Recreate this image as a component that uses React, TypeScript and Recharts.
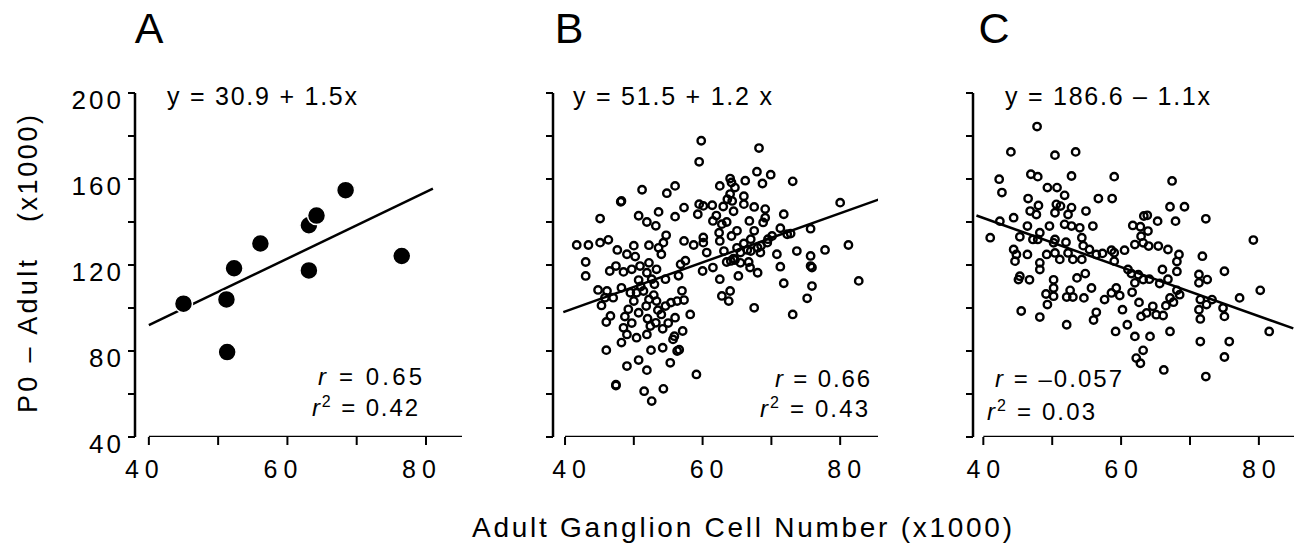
import { Scatter, ScatterChart, XAxis, YAxis } from "recharts";

// three panels share the same y scale (P0 - adult, x1000) and x scale (adult ganglion cells, x1000)
const yTicks = [40, 60, 80, 100, 120, 140, 160, 180, 200];
const yLabelTicks = [40, 80, 120, 160, 200];
const xTicks = [40, 50, 60, 70, 80];
const xLabelTicks = [40, 60, 80];

const pointsA: [number, number][] = [
  [45.0, 102], [51.2, 104], [51.3, 79.5], [52.3, 118.5], [56.1, 130],
  [63.1, 138.5], [64.2, 143], [63.1, 117.5], [68.4, 154.8], [76.5, 124.2],
];

const pointsB: [number, number][] = [
  [59.8, 177.8], [59.5, 168], [68.2, 174.4], [67.9, 163.4], [69.9, 162], [68.7, 157.9], [73.1, 158.9],
  [64, 160.2], [64.2, 158.4], [62.5, 156.8], [64.7, 156], [66.2, 159.2], [56, 156.8], [54.8, 153.4],
  [51.2, 155], [48.1, 149.4], [48.2, 149.8], [80, 149], [45.1, 141.6], [50.7, 142.9], [51.9, 140],
  [53.6, 144.7], [53.2, 138.2], [56, 142.5], [57.3, 146.7], [59.5, 148.3], [60.1, 147.5], [59.3, 143.6],
  [61.4, 147.8], [63, 147.2], [63.6, 150.6], [64.3, 149.8], [66, 148.3], [67.5, 147], [69.1, 146],
  [69.1, 142], [68.8, 139.8], [71.8, 143.6], [66.8, 140.5], [61.5, 140.5], [62.8, 139], [62.4, 135],
  [64.2, 133.5], [65, 135.9], [67.5, 135.9], [71.3, 137.1], [72.8, 134.6], [75.7, 136.9], [70.1, 133.5],
  [41.7, 129.3], [43.4, 129.3], [45.1, 130.4], [46.3, 131.7], [47.6, 127], [49, 125], [50.2, 123.9],
  [52.2, 129.2], [53.6, 128], [54.3, 130.4], [54.7, 133.8], [57.3, 131.2], [58.7, 129.3], [60.1, 132.8],
  [60.1, 130.4], [60.6, 125.8], [62.5, 131.2], [63.1, 126.5], [64.1, 121.9], [64.7, 122.3], [65.5, 125.8],
  [67, 126.5], [68, 128], [68.4, 125.8], [69.4, 130.4], [70.8, 125], [72.3, 134.3], [73.7, 126.5],
  [75.7, 124.2], [77.8, 127], [81.2, 129.3], [43, 121.4], [43, 114.9], [46.5, 117.2], [47.4, 119.5],
  [48.5, 116.8], [49.7, 118], [50.9, 119.5], [52.2, 121], [51.9, 116.4], [53.3, 118], [52.6, 113.4],
  [54.6, 113.4], [56.8, 120.3], [60, 117.2], [61.5, 118.8], [63.5, 121.4], [65.2, 114.9], [62.5, 113.4],
  [66.7, 121.4], [66.9, 118.8], [68, 116.4], [71.3, 119.2], [75.7, 119.5], [75.9, 118.8], [71.8, 111.5],
  [75.9, 110.2], [82.7, 112.6], [75.2, 104.5], [64, 107.9], [62.8, 105.6], [63.8, 103.2], [67.5, 100.1],
  [73.1, 97], [44.8, 108.4], [46.1, 107.9], [45.8, 104.8], [45.3, 101.2], [47, 104.8], [48.2, 109.4],
  [49.5, 107.1], [50.4, 107.1], [51.4, 107.9], [50, 103.2], [49.2, 99.4], [50.7, 97.8], [51.8, 100.9],
  [52.2, 104], [53.3, 103.2], [54.6, 100.9], [55.4, 102.5], [56.3, 103.2], [57.3, 103.7], [54, 97],
  [58.2, 97], [56, 95.5], [46.6, 96.3], [46, 93.5], [48.7, 96], [48.5, 90.8], [49, 87.7], [48.2, 83.9],
  [50.4, 86.2], [51.9, 87.7], [52.4, 91.6], [53.2, 93.1], [54.2, 90.3], [55.9, 86.9], [55.7, 85.4],
  [57.1, 89.3], [46, 80.4], [49, 73], [50.7, 75.8], [51.9, 71.1], [52.5, 80.4], [54.2, 81.5], [56.3, 80],
  [56.6, 80.6], [55.3, 74.5], [59.1, 69.1], [47.4, 63.9], [47.4, 64.3], [51.5, 61.3], [52.6, 56.7],
  [54.3, 62.4], [53, 111], [51, 110], [52.9, 106], [50.7, 113], [52, 95], [53.5, 99], [49.7, 93],
  [55, 93], [57, 108], [56.5, 115], [54, 125], [57.5, 122], [50, 129], [65, 128], [66, 130], [67, 132],
  [68.5, 129], [69.5, 132], [66.5, 127], [64.5, 123], [65.5, 121], [62, 143], [63.5, 140], [64.5, 145],
  [66, 152], [64, 153],
];

const pointsC: [number, number][] = [
  [47.8, 184.4], [44, 172.6], [50.4, 171.1], [53.4, 172.6], [46.9, 162.2], [47.9, 161.1], [52.8, 161.4],
  [59, 161.1], [67.4, 159.1], [42.3, 159.9], [42.7, 153.7], [49.3, 156], [50.7, 156], [51.8, 152.4],
  [56.7, 150.9], [58.7, 150.9], [46.5, 150.9], [48, 147.7], [50.6, 148.2], [51.2, 147.4], [46.8, 145.1],
  [47.7, 143.5], [52.8, 146.7], [54.9, 145.1], [52.3, 143.5], [50.4, 144.3], [44.4, 142], [42.4, 140.4],
  [41, 132.7], [46.4, 138.1], [45.3, 133.1], [48.2, 135], [49.6, 138.1], [51.8, 138.9], [52.8, 138.1],
  [54, 137.3], [55.9, 138.1], [54.3, 132.7], [50.4, 131.9], [50.2, 130.3], [52, 130.6], [47.2, 131.9],
  [47.9, 131.9], [44.4, 127.2], [44.8, 124.9], [46.4, 124.9], [44.6, 121.8], [48.2, 121], [49.2, 124.9],
  [50.4, 125.6], [51.1, 122.6], [52.3, 125.6], [53, 122.6], [54.3, 122.6], [54.5, 129], [55.4, 127.2],
  [56.4, 124.9], [57.3, 125.4], [58.6, 126.9], [59, 125.7], [59, 121.8], [60.5, 126.9], [62, 129.5],
  [63.2, 130.3], [64, 128.8], [65.4, 128.8], [66.8, 127.2], [63.3, 142.8], [63.8, 143.1], [61.7, 138.4],
  [62.8, 137.8], [65.3, 140.4], [67.9, 140.4], [67.1, 147.1], [69.2, 147.1], [72.3, 141.5], [63.9, 135.8],
  [62.9, 133.4], [79.2, 131.6], [45.3, 114.8], [45.1, 113.2], [46.7, 113.1], [48.2, 117.9], [50.2, 113.1],
  [50.2, 109.3], [49.1, 106.5], [50.2, 105.5], [49.3, 101.6], [52.1, 105.1], [53, 105.1], [52.6, 108.2],
  [53.6, 114], [54.8, 116], [55.7, 109.3], [54.6, 104.7], [57.6, 103.9], [58.6, 107], [59.3, 109.3],
  [59.8, 105.8], [61, 117.9], [61.5, 116], [62.5, 115.5], [63.2, 113.2], [62, 111.7], [61.6, 107.3],
  [62.6, 102.6], [64.1, 113.4], [65.6, 111.4], [66.8, 113.4], [66, 117.9], [68.1, 117], [68.1, 121.6],
  [68.4, 124.9], [68.1, 108.2], [68.5, 106.2], [67.1, 104.7], [67.6, 102.7], [66.5, 101.1], [66.1, 96.5],
  [64.6, 100.8], [63.7, 97.7], [62.9, 96.1], [65.1, 96.9], [71.8, 124.1], [71.3, 115.6], [72.5, 113.2],
  [71.3, 111.7], [71.5, 103.9], [71.3, 99.2], [71.5, 94.9], [72.4, 101.6], [73.2, 103.9], [75, 117.1],
  [74.8, 100], [75, 96.1], [77.2, 104.7], [80.2, 108.2], [81.5, 89.1], [45.5, 98.6], [48.2, 95.8],
  [52.1, 92.2], [56, 94.4], [56.4, 98], [60.2, 99.2], [59.2, 89.1], [60.9, 92.2], [62, 86.8], [64.2, 86.8],
  [67.1, 89.1], [71.5, 84.4], [75.7, 84.4], [75, 77.2], [63.2, 80.3], [62.2, 76.7], [62.8, 74.3],
  [66.2, 71.2], [72.3, 68.1],
];

// regression lines at their visible ends
const fitA: [number, number][] = [[40, 92], [81, 155.5]];
const fitB: [number, number][] = [[39.75, 98.1], [86, 150.9]];
const fitC: [number, number][] = [[39, 143], [85, 90.5]];

const FONT = '"Liberation Sans", Arial, Helvetica, sans-serif';
const H = 545;
const PLOT_TOP = 93;
const PLOT_BOTTOM = 437;
const YW = 80;

const toXY = (pts: [number, number][]) => pts.map(([x, y]) => ({ x, y }));

interface PanelProps {
  left: number;
  right: number;
  xDomain: [number, number];
  points: [number, number][];
  fit: [number, number][];
  filled: boolean;
  showYLabels: boolean;
  labelShift: number;
}

function Panel({ left, right, xDomain, points, fit, filled, showYLabels, labelShift }: PanelProps) {
  const width = YW + (right - left);
  return (
    <div style={{ position: "absolute", left: left - YW, top: 0 }}>
      <ScatterChart width={width} height={H} margin={{ top: PLOT_TOP, right: 0, bottom: 0, left: 0 }}>
        <XAxis
          type="number"
          dataKey="x"
          domain={xDomain}
          ticks={xTicks}
          interval={0}
          allowDataOverflow
          axisLine={false}
          tickLine={{ stroke: "#000", strokeWidth: 2 }}
          tickSize={8}
          height={H - PLOT_BOTTOM}
          tick={({ x, y, payload }: any) =>
            xLabelTicks.includes(payload.value) ? (
              <text x={x + labelShift + 3} y={y + 31} textAnchor="middle" fontFamily={FONT} fontSize={25} letterSpacing={6} fill="#000">
                {payload.value}
              </text>
            ) : (
              <g />
            )
          }
        />
        <YAxis
          type="number"
          dataKey="y"
          domain={[40, 200]}
          ticks={yTicks}
          interval={0}
          allowDataOverflow
          width={YW}
          axisLine={{ stroke: "#000", strokeWidth: 2.5 }}
          tickLine={{ stroke: "#000", strokeWidth: 2 }}
          tickSize={7}
          tickMargin={7}
          tick={({ x, y, payload }: any) =>
            showYLabels && yLabelTicks.includes(payload.value) ? (
              <text x={x + 3} y={y + 16} textAnchor="end" fontFamily={FONT} fontSize={26} letterSpacing={3} fill="#000">
                {payload.value}
              </text>
            ) : (
              <g />
            )
          }
        />
        {/* x axis line starts at 40, separate from the y axis */}
        <Scatter
          data={toXY([[40, 40], [xDomain[1], 40]])}
          line={{ stroke: "#000", strokeWidth: 2.5 }}
          shape={() => <g />}
          isAnimationActive={false}
        />
        <Scatter
          data={toXY(fit)}
          line={{ stroke: "#000", strokeWidth: 2.5 }}
          shape={() => <g />}
          isAnimationActive={false}
        />
        <Scatter
          data={toXY(points)}
          isAnimationActive={false}
          shape={({ cx, cy }: any) =>
            filled ? (
              <circle cx={cx} cy={cy} r={9} fill="#000" stroke="#fff" strokeWidth={1.5} />
            ) : (
              <circle cx={cx} cy={cy} r={3.7} fill="none" stroke="#000" strokeWidth={2.4} />
            )
          }
        />
      </ScatterChart>
    </div>
  );
}

function RText({ x, y, r2, value, anchor, len }: { x: number; y: number; r2: boolean; value: string; anchor: "start" | "end"; len: number }) {
  return (
    <text x={x} y={y} textAnchor={anchor} fontFamily={FONT} fontSize={24} textLength={len} lengthAdjust="spacing">
      <tspan fontStyle="italic">r</tspan>
      {r2 ? <tspan dy={-9} fontSize={16}>2</tspan> : null}
      <tspan dy={r2 ? 9 : 0}>{` = ${value}`}</tspan>
    </text>
  );
}

export default function App() {
  return (
    <div style={{ position: "absolute", left: 0, top: 0, width: 1294, height: H, background: "#fff", overflow: "hidden" }}>
      <Panel left={135} right={462} xDomain={[38, 85.2]} points={pointsA} fit={fitA} filled showYLabels labelShift={-7} />
      <Panel left={553} right={878} xDomain={[38.25, 85.5]} points={pointsB} fit={fitB} filled={false} showYLabels={false} labelShift={4} />
      <Panel left={973} right={1294} xDomain={[38.5, 85.1]} points={pointsC} fit={fitC} filled={false} showYLabels={false} labelShift={0} />
      <svg width={1294} height={H} style={{ position: "absolute", left: 0, top: 0, pointerEvents: "none" }}>
        <g fontFamily={FONT} fill="#000">
          <text x={149} y={43} fontSize={43} textAnchor="middle">A</text>
          <text x={569} y={43} fontSize={43} textAnchor="middle">B</text>
          <text x={994} y={43} fontSize={43} textAnchor="middle">C</text>

          <text x={167} y={105} fontSize={25} textLength={190} lengthAdjust="spacing">y = 30.9 + 1.5x</text>
          <text x={573} y={105} fontSize={25} textLength={199} lengthAdjust="spacing">y = 51.5 + 1.2 x</text>
          <text x={1005} y={105} fontSize={25} textLength={205} lengthAdjust="spacing">y = 186.6 – 1.1x</text>

          <RText x={422} y={385} r2={false} value="0.65" anchor="end" len={104} />
          <RText x={418} y={416} r2 value="0.42" anchor="end" len={106} />
          <RText x={870} y={387} r2={false} value="0.66" anchor="end" len={95} />
          <RText x={868} y={417} r2 value="0.43" anchor="end" len={108} />
          <RText x={995} y={387} r2={false} value="–0.057" anchor="start" len={127} />
          <RText x={987} y={420} r2 value="0.03" anchor="start" len={108} />

          <text transform="translate(37, 413) rotate(-90)" fontSize={27} textLength={153} lengthAdjust="spacing">P0 – Adult</text>
          <text transform="translate(37, 222) rotate(-90)" fontSize={27} textLength={107} lengthAdjust="spacing">(x1000)</text>

          <text x={472} y={537} fontSize={28} textLength={540} lengthAdjust="spacing">Adult Ganglion Cell Number (x1000)</text>
        </g>
      </svg>
    </div>
  );
}
